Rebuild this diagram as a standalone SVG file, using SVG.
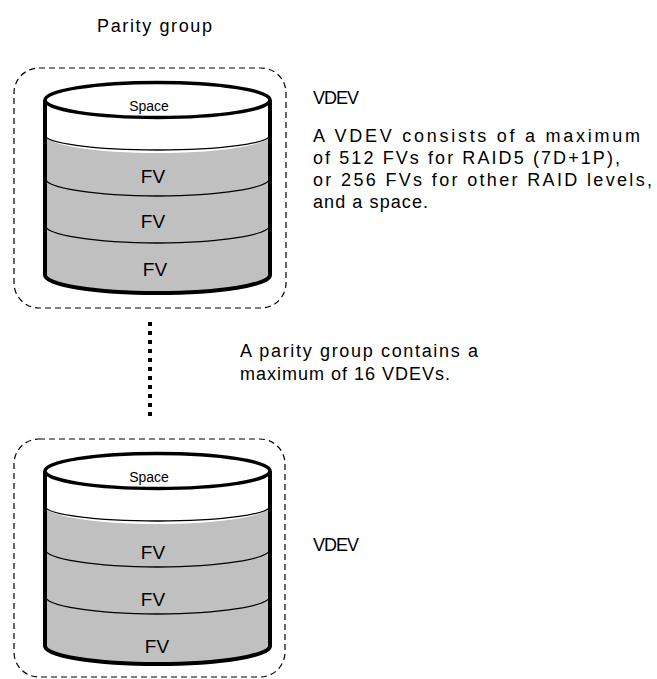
<svg xmlns="http://www.w3.org/2000/svg" width="657" height="679" viewBox="0 0 657 679">
<defs>
<style>
text{font-family:"Liberation Sans",Arial,sans-serif;fill:#000}
.lbl{font-size:18px}
.fv{font-size:19px;text-anchor:middle}
.sp{font-size:14px;text-anchor:middle}
.box{fill:none;stroke:#000;stroke-width:1.2;stroke-dasharray:6 4}
.wall{fill:none;stroke:#000;stroke-width:4}
.band{fill:none;stroke:#000;stroke-width:1.3}
.body{fill:#c0c0c0;stroke:none}
.top{fill:#fff;stroke:#000;stroke-width:3.5}
</style>
<g id="cyl">
<path class="body" d="M45,135 A112.5,18 0 0 0 270,135 L270,275 A112.5,18 0 0 1 45,275 Z"/>
<path d="M45,100 L45,135 A112.5,15 0 0 0 270,135 L270,100 Z" fill="#fff"/>
<path class="band" d="M45,135 A112.5,15 0 0 0 270,135"/>
<path class="band" d="M45,178 A112.5,18 0 0 0 270,178"/>
<path class="band" d="M45,225 A112.5,18 0 0 0 270,225"/>
<path class="wall" d="M45,100 L45,275 A112.5,18 0 0 0 270,275 L270,100"/>
<ellipse class="top" cx="157.5" cy="100" rx="112.5" ry="17.5"/>
</g>
</defs>
<text class="lbl" x="97" y="32" textLength="115" lengthAdjust="spacing">Parity group</text>
<g id="vdev1">
<rect class="box" x="14" y="68" width="272" height="240" rx="25"/>
<use href="#cyl"/>
<text class="sp" x="149" y="111">Space</text>
<text class="fv" x="153" y="183">FV</text>
<text class="fv" x="153" y="228">FV</text>
<text class="fv" x="155" y="276">FV</text>
</g>
<text class="lbl" x="313" y="104" textLength="46" lengthAdjust="spacing">VDEV</text>
<g id="desc1">
<text class="lbl" x="313" y="142" textLength="327" lengthAdjust="spacing">A VDEV consists of a maximum</text>
<text class="lbl" x="313" y="164" textLength="307" lengthAdjust="spacing">of 512 FVs for RAID5 (7D+1P),</text>
<text class="lbl" x="313" y="186" textLength="339" lengthAdjust="spacing">or 256 FVs for other RAID levels,</text>
<text class="lbl" x="313" y="208" textLength="115" lengthAdjust="spacing">and a space.</text>
</g>
<g id="connectors">
<line x1="150" y1="322" x2="150" y2="421" stroke="#000" stroke-width="4" stroke-dasharray="4 5"/>
</g>
<g id="desc2">
<text class="lbl" x="240" y="357" textLength="238" lengthAdjust="spacing">A parity group contains a</text>
<text class="lbl" x="240" y="380" textLength="210" lengthAdjust="spacing">maximum of 16 VDEVs.</text>
</g>
<g id="vdev2">
<rect class="box" x="14" y="439" width="271" height="238" rx="25"/>
<use href="#cyl" transform="translate(0,371)"/>
<text class="sp" x="149" y="482">Space</text>
<text class="fv" x="153" y="559">FV</text>
<text class="fv" x="153" y="606">FV</text>
<text class="fv" x="157" y="653">FV</text>
</g>
<text class="lbl" x="313" y="551" textLength="46" lengthAdjust="spacing">VDEV</text>
</svg>
